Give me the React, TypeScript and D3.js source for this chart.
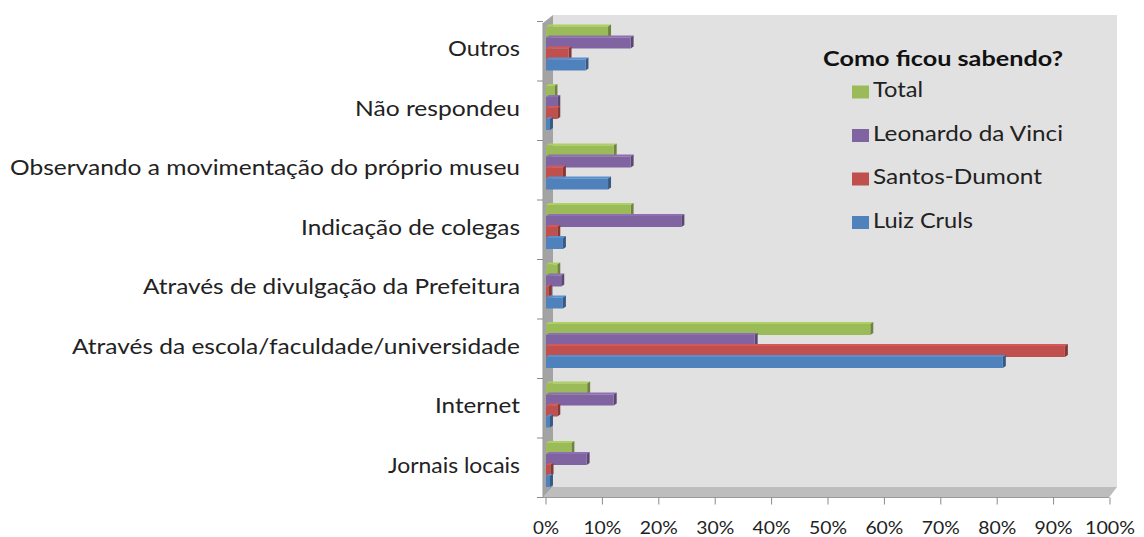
import React from "react";
import * as d3 from "d3";

const categories = [
  "Outros",
  "Não respondeu",
  "Observando a movimentação do próprio museu",
  "Indicação de colegas",
  "Através de divulgação da Prefeitura",
  "Através da escola/faculdade/universidade",
  "Internet",
  "Jornais locais",
];
const labelWidths = [72, 165, 510, 219, 377, 448, 85, 132];

const seriesNames = ["Total", "Leonardo da Vinci", "Santos-Dumont", "Luiz Cruls"];
const total = [11, 1.5, 12, 15, 2, 57.5, 7.3, 4.5];
const leonardo = [15, 2, 15, 24, 2.7, 37, 12, 7.2];
const santos = [4, 2, 3, 2, 0.5, 92, 2, 0.8];
const luiz = [7, 0.7, 11, 3, 3, 81, 0.7, 0.7];
const xTicks = [0, 10, 20, 30, 40, 50, 60, 70, 80, 90, 100];

const colors = ["#9bbb59", "#8064a2", "#c0504d", "#4f81bd"];
const legendWidths = [50, 190, 169, 100];

const W = 1144;
const H = 537;
const FONT = "Lato, 'Open Sans', sans-serif";

export default function App() {
  const seriesValues = [total, leonardo, santos, luiz];
  const x = d3.scaleLinear().domain([0, 100]).range([546, 1110]);
  const y = d3.scaleBand<string>().domain(categories).range([21.5, 497.5]).paddingInner(0).paddingOuter(0);
  const yInner = d3
    .scaleBand<string>()
    .domain(seriesNames)
    .range([5, y.bandwidth() - 10.5]);

  const wallL = 553;
  const wallT = 15;
  const floorY = 487;
  const floorB = 497.5;
  const leftX = 543;
  const dx = 3;
  const dy = 2;

  const bars: React.ReactNode[] = [];
  categories.forEach((cat, ci) => {
    seriesNames.forEach((s, si) => {
      const v = seriesValues[si][ci];
      const y0 = (y(cat) as number) + (yInner(s) as number);
      const h = yInner.bandwidth();
      const x0 = x(0);
      const x1 = x(v);
      const c = d3.color(colors[si])!;
      const light = d3.color(colors[si])!.brighter(0.3).toString();
      const dark = d3.color(colors[si])!.darker(1).toString();
      bars.push(
        <g key={`${ci}-${si}`}>
          <polygon
            points={`${x0},${y0} ${x0 + dx},${y0 - dy} ${x1 + dx},${y0 - dy} ${x1},${y0}`}
            fill={light}
          />
          <polygon
            points={`${x1},${y0} ${x1 + dx},${y0 - dy} ${x1 + dx},${y0 + h - dy} ${x1},${y0 + h}`}
            fill={dark}
          />
          <rect x={x0} y={y0} width={Math.max(0, x1 - x0)} height={h} fill={c.toString()} />
        </g>
      );
    });
  });

  return (
    <svg
      width={W}
      height={H}
      style={{ position: "absolute", left: 0, top: 0, display: "block", background: "#fff" }}
      fontFamily={FONT}
    >
      {/* back wall */}
      <polygon
        points={`${wallL},${wallT} 1117,${wallT} 1117,${floorY} ${wallL},${floorY}`}
        fill="#e1e1e1"
      />
      {/* left wall */}
      <polygon
        points={`${leftX},${wallT + 8} ${wallL},${wallT} ${wallL},${floorY} ${leftX},${floorB}`}
        fill="#a3a3a3"
      />
      {/* floor */}
      <polygon
        points={`${leftX},${floorB} ${wallL},${floorY} 1117,${floorY} 1109,${floorB}`}
        fill="#bdbdbd"
      />
      <line x1={leftX} x2={1109} y1={floorB} y2={floorB} stroke="#9a9a9a" strokeWidth={1} />
      <line x1={leftX} x2={leftX} y1={wallT + 8} y2={floorB} stroke="#9a9a9a" strokeWidth={1} />

      {/* category ticks */}
      {categories.map((c) => (
        <line
          key={"t" + c}
          x1={537}
          x2={leftX}
          y1={y(c) as number}
          y2={y(c) as number}
          stroke="#8a8a8a"
        />
      ))}
      <line x1={537} x2={leftX} y1={497.5} y2={497.5} stroke="#8a8a8a" />

      {/* x ticks */}
      {xTicks.map((t) => (
        <g key={"x" + t}>
          <line x1={x(t)} x2={x(t)} y1={floorB} y2={floorB + 7} stroke="#8a8a8a" />
          <text
            x={x(t)}
            y={529}
            textAnchor="middle"
            dominantBaseline="middle"
            fontSize={18}
            fill="#222"
            textLength={t === 100 ? 50 : t === 0 ? 26 : 38}
            lengthAdjust="spacingAndGlyphs"
          >
            {t + "%"}
          </text>
        </g>
      ))}

      {bars}

      {/* category labels */}
      {categories.map((c, i) => (
        <text
          key={"l" + c}
          x={520}
          y={(y(c) as number) + y.bandwidth() / 2}
          textAnchor="end"
          dominantBaseline="middle"
          fontSize={20.5}
          fill="#222"
          textLength={labelWidths[i]}
          lengthAdjust="spacingAndGlyphs"
        >
          {c}
        </text>
      ))}

      {/* legend */}
      <text
        x={823}
        y={61}
        dominantBaseline="middle"
        fontSize={20.5}
        fontWeight="bold"
        fill="#111"
        textLength={240}
        lengthAdjust="spacingAndGlyphs"
      >
        Como ficou sabendo?
      </text>
      {seriesNames.map((s, i) => {
        const cy = 92 + i * 43.5;
        return (
          <g key={"lg" + s}>
            <rect x={852} y={cy - 6.5} width={17} height={13} fill={colors[i]} />
            <text
              x={873}
              y={cy}
              dominantBaseline="middle"
              fontSize={20.5}
              fill="#222"
              textLength={legendWidths[i]}
              lengthAdjust="spacingAndGlyphs"
            >
              {s}
            </text>
          </g>
        );
      })}
    </svg>
  );
}
